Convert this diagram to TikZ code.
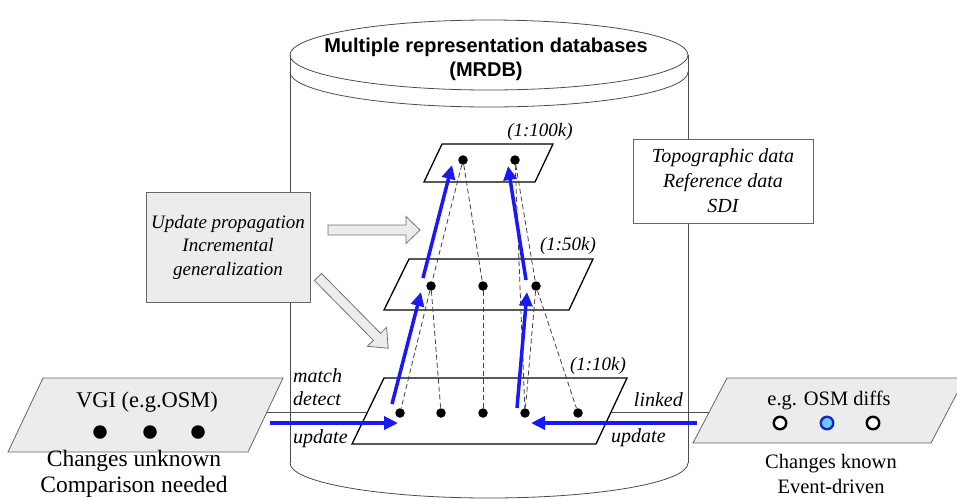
\documentclass[tikz,border=0pt]{standalone}
\usepackage{fontspec}
\setmainfont{Liberation Serif}
\newfontfamily\titlefont{Liberation Sans}
\usetikzlibrary{arrows.meta}
\definecolor{arrblue}{RGB}{25,25,245}
\definecolor{boxgray}{RGB}{236,236,236}
\definecolor{lightblue}{RGB}{110,200,255}
\begin{document}
\begin{tikzpicture}[x=1pt,y=-1pt,
  cyl/.style={draw=black!70, line width=0.8pt},
  layer/.style={draw=black, line width=1.3pt, line join=miter},
  dot/.style={circle, fill=black, inner sep=0pt, minimum size=9.5pt},
  bigdot/.style={circle, fill=black, inner sep=0pt, minimum size=13.5pt},
  ocirc/.style={circle, draw=black, line width=2.4pt, fill=white, inner sep=0pt, minimum size=12.5pt},
  dsh/.style={draw=black!75, line width=0.8pt, dash pattern=on 5pt off 3pt},
  bluearr/.style={draw=arrblue, line width=3.5pt, -{Triangle[length=14pt,width=13pt]}},
  conn/.style={draw=black!70, line width=0.8pt},
  lbl/.style={font=\fontsize{20}{24}\selectfont\itshape, inner sep=0pt},
  scale lbl/.style={font=\fontsize{19}{22}\selectfont\itshape, inner sep=0pt},
  srcbox/.style={draw=black!60, line width=0.8pt, fill=boxgray},
  blockarr/.style={draw=black!55, line width=0.8pt, fill=boxgray},
  bigtxt/.style={font=\fontsize{22.5}{26}\selectfont, align=center, inner sep=0pt},
  lefttxt/.style={font=\fontsize{23.5}{25.5}\selectfont, align=center, inner sep=0pt},
  righttxt/.style={font=\fontsize{20.5}{25.5}\selectfont, align=center, inner sep=0pt}
]
\useasboundingbox (0,0) rectangle (957,499);
\clip (0,0) rectangle (957,499);

% cylinder
\draw[cyl] (290,55) -- (290,463);
\draw[cyl] (688,55) -- (688,463);
\draw[cyl] (489,55) ellipse [x radius=199, y radius=35];
\draw[cyl] (290,72) .. controls (290,91.3) and (379,107) .. (489,107) .. controls (599,107) and (688,91.3) .. (688,72);
\draw[cyl] (290,463) .. controls (290,482.3) and (379,498) .. (489,498) .. controls (599,498) and (688,482.3) .. (688,463);
\node[font=\titlefont\bfseries\fontsize{20}{24}\selectfont, align=center, inner sep=0pt] (title) at (486,59) {Multiple representation databases\\(MRDB)};

% side boxes
\node[srcbox, minimum width=164pt, minimum height=110pt, inner sep=0pt, align=center, font=\fontsize{19}{23.5}\selectfont\itshape] (upd) at (228,247) {Update propagation\\Incremental\\generalization};
\node[draw=black!60, line width=0.8pt, fill=white, minimum width=180pt, minimum height=84pt, inner sep=0pt, align=center, font=\fontsize{20}{25}\selectfont\itshape] (topo) at (723,181) {Topographic data\\Reference data\\SDI};

% block arrows
\begin{scope}[shift={(328,230)}]
  \draw[blockarr] (0,-5) -- (78,-5) -- (78,-13.5) -- (92,0) -- (78,13.5) -- (78,5) -- (0,5) -- cycle;
\end{scope}
\begin{scope}[shift={(318,277)}, rotate=-45.4]
  \draw[blockarr] (0,-5) -- (84,-5) -- (84,-13.5) -- (100,0) -- (84,13.5) -- (84,5) -- (0,5) -- cycle;
\end{scope}

% layers
\draw[layer] (442,144) -- (553,144) -- (535,182) -- (424,182) -- cycle;
\draw[layer] (409,259) -- (593,259) -- (569,310) -- (384,310) -- cycle;
\draw[layer] (384,378) -- (627,378) -- (596,444) -- (352,444) -- cycle;
\node[scale lbl] (s100) at (540,132) {(1:100k)};
\node[scale lbl] (s50) at (568,246) {(1:50k)};
\node[scale lbl] (s10) at (598,366) {(1:10k)};

% dots
\node[dot] (t1) at (463,160) {};
\node[dot] (t2) at (515,160) {};
\node[dot] (m1) at (431,286) {};
\node[dot] (m2) at (483,286) {};
\node[dot] (m3) at (536,286) {};
\node[dot] (b1) at (400,413) {};
\node[dot] (b2) at (441,413) {};
\node[dot] (b3) at (483,413) {};
\node[dot] (b4) at (525,413) {};
\node[dot] (b5) at (578,413) {};

% dashed links
\draw[dsh] (t1) -- (m1);
\draw[dsh] (t1) -- (m2);
\draw[dsh] (t2) -- (m3);
\draw[dsh] (t2) -- (b4);
\draw[dsh] (m1) -- (b1);
\draw[dsh] (m1) -- (b2);
\draw[dsh] (m2) -- (b3);
\draw[dsh] (m3) -- (b4);
\draw[dsh] (m3) -- (b5);

% source parallelograms
\draw[srcbox] (43,378) -- (283,378) -- (248,452) -- (8,452) -- cycle;
\draw[srcbox] (727,378) -- (965,378) -- (931,443) -- (693,443) -- cycle;
\node[bigtxt] (vgi) at (147,402) {VGI (e.g.OSM)};
\node[bigdot] (v1) at (100,432) {};
\node[bigdot] (v2) at (150,432) {};
\node[bigdot] (v3) at (198,432) {};
\node[righttxt] (diffs) at (829,400) {e.g. OSM diffs};
\node[ocirc] (d1) at (780,423) {};
\node[ocirc, draw={rgb,255:red,20;green,40;blue,200}, fill=lightblue] (d2) at (827,423) {};
\node[ocirc] (d3) at (873,423) {};
\node[lefttxt] (lt) at (134,474) {Changes unknown\\Comparison needed};
\node[righttxt] (rt) at (831,474) {Changes known\\Event-driven};

% thin connectors
\coordinate (vgiR) at (267,412);
\coordinate (layL) at (367,412);
\coordinate (layR) at (611,412);
\coordinate (difL) at (709,412);
\draw[conn] (vgiR) -- (layL);
\draw[conn] (layR) -- (difL);

% labels
\node[lbl, anchor=west] (match) at (293,376) {match};
\node[lbl, anchor=west] (detect) at (293,399) {detect};
\node[lbl, anchor=west] (updL) at (293,439) {update};
\node[lbl, anchor=east] (linked) at (683,400) {linked};
\node[lbl, anchor=west] (updR) at (611,438) {update};

% blue arrows
\coordinate (a1s) at (392,404); \coordinate (a1e) at (421,292);
\coordinate (a2s) at (423,278); \coordinate (a2e) at (452,165);
\coordinate (a3s) at (517,408); \coordinate (a3e) at (527,292);
\coordinate (a4s) at (526,280); \coordinate (a4e) at (508,166);
\coordinate (h1s) at (270,423); \coordinate (h1e) at (398,423);
\coordinate (h2s) at (697,423); \coordinate (h2e) at (531,423);
\draw[bluearr] (a1s) -- (a1e);
\draw[bluearr] (a2s) -- (a2e);
\draw[bluearr] (a3s) -- (a3e);
\draw[bluearr] (a4s) -- (a4e);
\draw[bluearr] (h1s) -- (h1e);
\draw[bluearr] (h2s) -- (h2e);
\end{tikzpicture}
\end{document}
